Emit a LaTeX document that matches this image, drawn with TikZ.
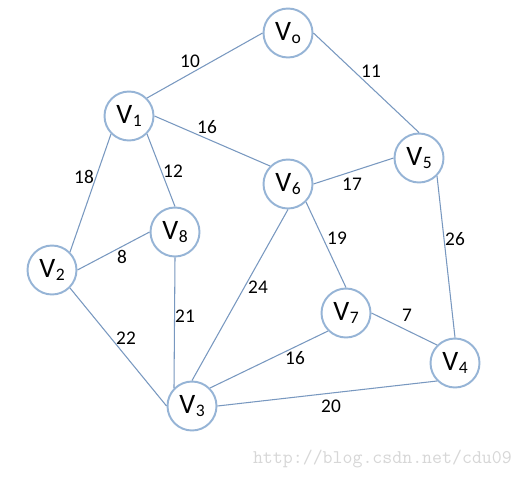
\documentclass[tikz,border=0pt]{standalone}
\usepackage{fontspec}
\setmainfont{Carlito}
\definecolor{ringblue}{RGB}{150,180,214}
\definecolor{edgeblue}{RGB}{120,152,192}
\definecolor{markgray}{RGB}{215,215,215}
\newcommand{\vsub}[1]{V\kern0.3pt{\fontsize{10}{10}\selectfont\raisebox{-0.25ex}{#1}}}

\begin{document}
\begin{tikzpicture}[x=0.02cm, y=-0.02cm,
    vert/.style={circle, draw=ringblue, line width=1.1pt, fill=white,
                 minimum size=0.98cm, inner sep=0pt, font=\fontsize{16}{16}\selectfont},
    wt/.style={font=\fontsize{11}{11}\selectfont, inner sep=1pt},
    link/.style={draw=edgeblue, line width=0.6pt}]
    \useasboundingbox (0,0) rectangle (520,477);
    \fill[white] (0,0) rectangle (520,477);
    % vertices
    \node[vert] (v0) at (288,33)  {\vsub{o}};
    \node[vert] (v1) at (129,116) {\vsub{1}};
    \node[vert] (v2) at (52,270)  {\vsub{2}};
    \node[vert] (v3) at (192,406) {\vsub{3}};
    \node[vert] (v4) at (455,363) {\vsub{4}};
    \node[vert] (v5) at (419,158) {\vsub{5}};
    \node[vert] (v6) at (288,184) {\vsub{6}};
    \node[vert] (v7) at (346,313) {\vsub{7}};
    \node[vert] (v8) at (175,232) {\vsub{8}};
    % edges, ending at the circles' connection points
    \draw[link] (v0.180) -- (v1.45);
    \draw[link] (v0.0)   -- (v5.90);
    \draw[link] (v1.0)   -- (v6.135);
    \draw[link] (v1.225) -- (v2.45);
    \draw[link] (v1.315) -- (v8.90);
    \draw[link] (v5.180) -- (v6.0);
    \draw[link] (v5.315) -- (v4.90);
    \draw[link] (v6.315) -- (v7.90);
    \draw[link] (v6.270) -- (v3.90);
    \draw[link] (v2.0)   -- (v8.180);
    \draw[link] (v8.270) -- (v3.135);
    \draw[link] (v2.315) -- (v3.180);
    \draw[link] (v7.0)   -- (v4.135);
    \draw[link] (v7.225) -- (v3.45);
    \draw[link] (v3.0)   -- (v4.225);
    % weights
    \node[wt] (w01) at (190,61)  {10};
    \node[wt] (w05) at (371,71)  {11};
    \node[wt] (w16) at (207,127) {16};
    \node[wt] (w12) at (84,177)  {18};
    \node[wt] (w18) at (173,171) {12};
    \node[wt] (w56) at (352,184) {17};
    \node[wt] (w54) at (455,239) {26};
    \node[wt] (w67) at (337,238) {19};
    \node[wt] (w63) at (258,287) {24};
    \node[wt] (w28) at (122,257) {8};
    \node[wt] (w83) at (185,316) {21};
    \node[wt] (w23) at (126,338) {22};
    \node[wt] (w74) at (407,315) {7};
    \node[wt] (w73) at (295,358) {16};
    \node[wt] (w34) at (331,406) {20};
    % watermark
    \node[text=markgray, font=\ttfamily\fontsize{11}{11}\selectfont, anchor=east] (mark) at (518,459) {http://blog.csdn.net/cdu09};
\end{tikzpicture}
\end{document}
